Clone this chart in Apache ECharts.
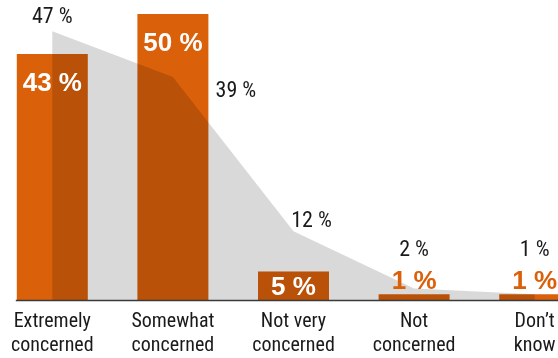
<!DOCTYPE html>
<html>
<head>
<meta charset="utf-8">
<script src="https://cdn.jsdelivr.net/npm/echarts@6/dist/echarts.min.js"></script>
<style>
html,body{margin:0;padding:0;background:#fff;overflow:hidden;width:558px;height:358px;position:relative;}
#chart{position:absolute;left:-7.8px;top:0;width:603px;height:358px;}
</style>
</head>
<body>
<div id="chart"></div>
<script>
const categories = ['Extremely\nconcerned', 'Somewhat\nconcerned', 'Not very\nconcerned', 'Not\nconcerned', 'Don\u2019t\nknow'];
const barValues = [43, 50, 5, 1, 1];
const areaValues = [47, 39, 12, 2, 1];

const ORANGE = '#da600a';
const FONT = '"Roboto Condensed", "Liberation Sans", sans-serif';
const BOLD_FONT = '"Liberation Sans", Arial, sans-serif';
const areaLabelOffsets = [[0, 0], [63, 28], [18, 4], [0, -25], [0, -30]];

function barLabel(v) {
  if (v >= 10) return { position: 'insideTop', distance: 17, color: '#fff' };
  if (v >= 3) return { position: 'inside', offset: [0, 2], color: '#fff' };
  return { position: 'top', distance: 0, offset: [0, 1], color: ORANGE };
}

const chart = echarts.init(document.getElementById('chart'), null, { renderer: 'canvas' });
chart.setOption({
  animation: false,
  grid: { left: 0, right: 0, top: 0, bottom: 58, containLabel: false },
  xAxis: {
    type: 'category',
    data: categories,
    boundaryGap: true,
    axisLine: { show: false },
    axisTick: { show: false },
    axisLabel: {
      interval: 0,
      margin: 10,
      fontFamily: FONT,
      fontSize: 20,
      lineHeight: 24,
      color: '#1a1a1a'
    }
  },
  yAxis: { type: 'value', min: 0, max: 52.45, show: false, splitLine: { show: false } },
  graphic: [{
    type: 'line',
    shape: { x1: 23.8, y1: 300.5, x2: 603, y2: 300.5 },
    style: { stroke: '#3a3a3a', lineWidth: 1.5 },
    z: 10
  }],
  series: [
    {
      type: 'bar',
      data: barValues,
      barWidth: 71,
      itemStyle: { color: ORANGE },
      z: 1
    },
    {
      type: 'line',
      data: areaValues.map((v, i) => ({ value: v, label: { offset: areaLabelOffsets[i] } })),
      symbol: 'circle',
      symbolSize: 1,
      showSymbol: true,
      itemStyle: { color: 'rgba(0,0,0,0)' },
      lineStyle: { width: 0 },
      areaStyle: { color: 'rgba(0,0,0,0.15)', opacity: 1 },
      z: 2,
      label: {
        show: true,
        position: 'top',
        distance: 2,
        formatter: '{c} %',
        fontFamily: FONT,
        fontSize: 22,
        color: '#1a1a1a'
      }
    },
    {
      type: 'bar',
      data: barValues.map(v => ({ value: v, label: barLabel(v) })),
      barWidth: 71,
      barGap: '-100%',
      itemStyle: { color: 'rgba(0,0,0,0)' },
      z: 3,
      label: {
        show: true,
        formatter: '{c} %',
        fontFamily: BOLD_FONT,
        fontWeight: 'bold',
        fontSize: 26
      }
    }
  ]
});
</script>
</body>
</html>
